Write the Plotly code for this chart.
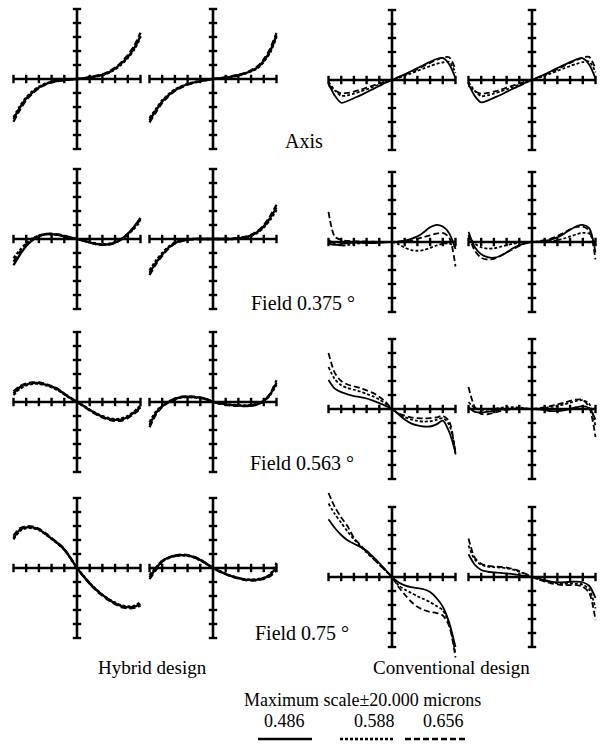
import plotly.graph_objects as go

W, H = 609, 747

# pupil coordinate samples (relative aperture) and axis ticks
X = [-1.0, -0.9, -0.8, -0.7, -0.6, -0.5, -0.4, -0.3, -0.2, -0.1, 0.0,
     0.1, 0.2, 0.3, 0.4, 0.5, 0.6, 0.7, 0.8, 0.9, 1.0]
X_TICKS = [-1.0, -0.8, -0.6, -0.4, -0.2, 0.2, 0.4, 0.6, 0.8, 1.0]
Y_TICKS = [-20, -16, -12, -8, -4, 4, 8, 12, 16, 20]   # microns
WAVELENGTHS = ["0.486", "0.588", "0.656"]
ROW_LABELS = ["Axis", "Field 0.375 °", "Field 0.563 °", "Field 0.75 °"]
DESIGN_LABELS = ["Hybrid design", "Conventional design"]
SCALE_LABEL = "Maximum scale\u00b120.000 microns"

# ---------------- Axis ----------------
h_ax_t_486 = [-11.5, -8.2, -5.6, -3.8, -2.4, -1.5, -0.9, -0.5, -0.3, -0.1, 0, 0.2, 0.5, 0.8, 1.2, 1.9, 3.0, 4.5, 6.3, 8.8, 12.3]
h_ax_t_588 = [-11.0, -7.8, -5.3, -3.5, -2.2, -1.3, -0.8, -0.4, -0.2, -0.1, 0, 0.2, 0.4, 0.7, 1.1, 1.8, 2.8, 4.2, 6.0, 8.4, 12.0]
h_ax_t_656 = [-12.2, -8.8, -6.0, -4.1, -2.6, -1.6, -1.0, -0.6, -0.3, -0.1, 0, 0.2, 0.5, 0.9, 1.3, 2.1, 3.2, 4.8, 6.8, 9.4, 13.2]

h_ax_s_486 = [-11.8, -9.0, -6.4, -4.6, -3.2, -2.2, -1.5, -1.0, -0.6, -0.3, 0, 0.2, 0.4, 0.7, 1.1, 1.6, 2.3, 3.3, 5.2, 8.0, 12.5]
h_ax_s_588 = [-11.2, -8.6, -6.1, -4.4, -3.0, -2.1, -1.4, -0.9, -0.5, -0.2, 0, 0.2, 0.4, 0.6, 1.0, 1.5, 2.2, 3.1, 4.9, 7.6, 12.0]
h_ax_s_656 = [-12.4, -9.5, -6.8, -4.9, -3.4, -2.4, -1.6, -1.1, -0.6, -0.3, 0, 0.2, 0.5, 0.8, 1.2, 1.7, 2.5, 3.6, 5.6, 8.6, 13.2]

c_ax_t_486 = [-1.0, -4.5, -6.5, -6.0, -5.2, -4.4, -3.5, -2.6, -1.7, -0.8, 0, 0.8, 1.6, 2.5, 3.4, 4.3, 5.2, 6.0, 6.3, 4.5, 0.5]
c_ax_t_588 = [-0.5, -3.0, -4.5, -4.4, -3.9, -3.3, -2.7, -2.0, -1.3, -0.6, 0, 0.6, 1.2, 1.9, 2.6, 3.3, 4.0, 4.6, 5.0, 5.2, 2.0]
c_ax_t_656 = [-1.5, -3.0, -3.8, -3.7, -3.3, -2.8, -2.2, -1.6, -1.0, -0.4, 0.2, 0.8, 1.5, 2.3, 3.1, 4.0, 4.9, 5.7, 6.4, 6.5, 3.0]

c_ax_s_486 = [-1.2, -4.6, -6.4, -5.9, -5.1, -4.3, -3.4, -2.5, -1.7, -0.8, 0, 0.8, 1.6, 2.5, 3.4, 4.3, 5.1, 5.9, 6.2, 4.4, 0.4]
c_ax_s_588 = [-0.6, -3.1, -4.6, -4.4, -3.9, -3.3, -2.7, -2.0, -1.3, -0.6, 0, 0.6, 1.2, 1.9, 2.6, 3.3, 4.0, 4.6, 5.1, 5.3, 2.2]
c_ax_s_656 = [-1.6, -3.2, -3.9, -3.7, -3.3, -2.8, -2.2, -1.6, -1.0, -0.4, 0.2, 0.8, 1.5, 2.3, 3.1, 4.0, 4.9, 5.7, 6.4, 6.6, 3.2]

# ---------------- Field 0.375 ----------------
h_f1_t_486 = [-7.5, -4.5, -2.0, -0.3, 0.8, 1.3, 1.4, 1.2, 0.8, 0.4, 0, -0.5, -1.0, -1.4, -1.6, -1.5, -1.0, 0.0, 1.5, 3.5, 6.0]
h_f1_t_588 = [-5.5, -3.2, -1.2, 0.2, 1.0, 1.4, 1.4, 1.2, 0.8, 0.4, 0, -0.4, -0.9, -1.3, -1.5, -1.4, -0.9, 0.0, 1.3, 3.0, 5.0]
h_f1_t_656 = [-6.5, -3.8, -1.5, 0.0, 0.9, 1.4, 1.5, 1.3, 0.9, 0.4, 0, -0.5, -1.0, -1.5, -1.7, -1.6, -1.1, -0.1, 1.4, 3.3, 5.6]

h_f1_s_486 = [-9.7, -6.8, -4.5, -2.5, -1.2, -0.5, -0.2, 0, 0, 0, 0, 0, 0, 0, 0.2, 0.5, 1.0, 2.0, 3.6, 6.0, 9.0]
h_f1_s_588 = [-9.0, -6.2, -4.0, -2.2, -1.0, -0.4, -0.1, 0, 0, 0, 0, 0, 0, 0, 0.1, 0.4, 0.9, 1.8, 3.3, 5.5, 8.3]
h_f1_s_656 = [-10.3, -7.2, -4.8, -2.7, -1.3, -0.6, -0.2, 0, 0, 0, 0, 0, 0, 0.1, 0.3, 0.6, 1.2, 2.2, 3.9, 6.5, 9.8]

c_f1_t_486 = [-0.5, -0.8, -0.6, -0.3, -0.2, -0.2, -0.3, -0.3, -0.2, -0.1, 0, 0.1, 0.4, 0.9, 1.6, 2.8, 4.2, 4.9, 4.4, 2.5, -2.0]
c_f1_t_588 = [0.5, -0.5, -1.0, -0.9, -0.6, -0.3, -0.1, 0, 0, 0, 0, -0.6, -1.6, -2.3, -2.5, -2.3, -1.7, -1.0, -0.5, -0.4, -1.5]
c_f1_t_656 = [8.6, 1.5, 0.6, 0.3, 0.2, 0.2, 0.1, 0.1, 0, 0, 0, 0.1, 0.2, 0.4, 0.9, 1.4, 1.9, 2.4, 2.6, 1.3, -7.0]

c_f1_s_486 = [2.9, -1.5, -3.5, -4.3, -4.5, -4.0, -3.0, -1.8, -0.9, -0.3, 0, 0.1, 0.3, 0.7, 1.3, 2.3, 3.5, 4.5, 4.9, 4.0, -3.0]
c_f1_s_588 = [1.5, -0.5, -1.5, -1.9, -1.8, -1.4, -0.9, -0.5, -0.2, 0, 0, 0, 0.1, 0.2, 0.5, 1.0, 1.6, 2.2, 2.6, 2.4, -1.0]
c_f1_s_656 = [2.0, -2.5, -4.5, -5.0, -4.8, -4.0, -3.0, -2.0, -1.1, -0.4, 0, 0.2, 0.5, 1.0, 1.7, 2.6, 3.6, 4.3, 4.4, 3.3, -5.0]

# ---------------- Field 0.563 ----------------
h_f2_t_486 = [2.5, 4.2, 5.0, 5.4, 5.4, 5.0, 4.4, 3.6, 2.3, 1.1, 0, -1.1, -2.3, -3.3, -4.2, -4.8, -5.1, -5.0, -4.3, -3.0, -1.5]
h_f2_t_588 = [2.0, 3.8, 4.7, 5.2, 5.2, 4.8, 4.2, 3.4, 2.2, 1.0, 0, -1.0, -2.2, -3.2, -4.0, -4.6, -4.9, -4.7, -4.0, -2.7, -1.0]
h_f2_t_656 = [3.0, 4.5, 5.3, 5.6, 5.6, 5.2, 4.5, 3.7, 2.4, 1.2, 0, -1.2, -2.4, -3.5, -4.4, -5.0, -5.4, -5.3, -4.6, -3.3, -2.0]

h_f2_s_486 = [-6.6, -3.2, -1.2, 0.0, 0.9, 1.4, 1.5, 1.4, 1.2, 0.8, 0, -0.4, -0.7, -0.9, -1.0, -1.1, -1.0, -0.6, 0.3, 2.2, 5.5]
h_f2_s_588 = [-5.8, -2.8, -1.0, 0.1, 0.9, 1.3, 1.4, 1.3, 1.1, 0.7, 0, -0.4, -0.6, -0.8, -0.9, -1.0, -0.9, -0.5, 0.3, 2.0, 5.0]
h_f2_s_656 = [-7.2, -3.6, -1.4, -0.1, 0.9, 1.5, 1.6, 1.5, 1.3, 0.8, 0, -0.5, -0.8, -1.0, -1.1, -1.2, -1.1, -0.7, 0.2, 2.4, 6.2]

c_f2_t_486 = [8.3, 5.8, 4.8, 4.2, 3.7, 3.4, 3.0, 2.4, 1.7, 0.9, 0, -1.5, -3.0, -4.1, -4.7, -5.0, -5.0, -4.4, -3.3, -6.5, -12.5]
c_f2_t_588 = [12.0, 8.5, 6.8, 6.0, 5.5, 5.0, 4.3, 3.6, 2.7, 1.5, 0, -1.3, -2.3, -3.0, -3.4, -3.6, -3.5, -3.1, -2.6, -4.5, -12.0]
c_f2_t_656 = [16.0, 10.3, 8.0, 7.0, 6.5, 6.0, 5.3, 4.6, 3.5, 2.0, 0, -1.2, -1.9, -2.4, -2.6, -2.7, -2.6, -2.4, -2.0, -3.5, -13.0]

c_f2_s_486 = [0.5, -0.8, -1.0, -0.8, -0.5, -0.2, 0, 0.1, 0.1, 0.1, 0, -0.1, -0.3, -0.6, -0.6, -0.4, 0, 0.5, 0.8, 0.2, -3.0]
c_f2_s_588 = [2.0, 0.3, -0.2, -0.2, 0, 0.3, 0.5, 0.5, 0.4, 0.2, 0, 0.1, 0.3, 0.6, 0.9, 1.3, 1.8, 2.3, 2.5, 1.5, -5.0]
c_f2_s_656 = [6.3, 0.5, -1.4, -1.5, -1.1, -0.6, -0.2, 0, 0.1, 0.1, 0, 0.2, 0.5, 0.9, 1.3, 1.8, 2.3, 2.7, 2.6, 0.5, -8.0]

# ---------------- Field 0.75 ----------------
h_f3_t_486 = [8.6, 10.9, 11.6, 11.6, 11.0, 9.8, 8.4, 7.0, 5.3, 2.8, 0, -2.3, -4.4, -6.2, -7.7, -9.0, -10.1, -10.9, -11.2, -11.1, -10.3]
h_f3_t_588 = [8.2, 10.6, 11.4, 11.4, 10.9, 9.7, 8.3, 6.9, 5.2, 2.7, 0, -2.2, -4.3, -6.1, -7.6, -8.9, -9.9, -10.7, -11.0, -10.8, -9.8]
h_f3_t_656 = [9.2, 11.3, 11.9, 11.8, 11.2, 10.0, 8.5, 7.1, 5.4, 2.8, 0, -2.4, -4.5, -6.4, -7.9, -9.2, -10.3, -11.2, -11.5, -11.4, -10.8]

h_f3_s_486 = [-2.6, -0.2, 2.0, 3.0, 3.5, 3.7, 3.6, 3.1, 2.3, 1.2, 0, -0.9, -1.7, -2.4, -2.9, -3.3, -3.4, -3.3, -2.9, -2.0, 0.5]
h_f3_s_588 = [-2.0, 0.1, 2.0, 2.9, 3.4, 3.6, 3.5, 3.0, 2.2, 1.1, 0, -0.9, -1.6, -2.3, -2.8, -3.2, -3.3, -3.2, -2.8, -1.8, 1.5]
h_f3_s_656 = [-3.2, -0.6, 1.8, 2.9, 3.5, 3.8, 3.7, 3.2, 2.4, 1.2, 0, -1.0, -1.8, -2.5, -3.0, -3.4, -3.6, -3.5, -3.1, -2.3, -0.5]

c_f3_t_486 = [16.5, 14.0, 12.0, 10.5, 9.5, 8.6, 7.5, 5.8, 4.0, 2.0, 0, -1.5, -2.4, -2.9, -3.2, -3.5, -4.3, -6.0, -8.5, -13.0, -20.0]
c_f3_t_588 = [21.0, 18.0, 15.5, 13.0, 10.8, 8.9, 7.0, 5.3, 3.6, 1.8, 0, -2.3, -3.6, -4.5, -5.5, -6.3, -7.2, -8.3, -9.5, -13.5, -22.0]
c_f3_t_656 = [24.0, 20.0, 17.0, 14.5, 11.2, 9.2, 7.2, 5.4, 3.5, 1.8, 0, -2.8, -5.0, -7.0, -8.5, -9.4, -10.0, -10.3, -11.0, -14.0, -23.0]

c_f3_s_486 = [6.5, 3.5, 2.0, 1.5, 1.3, 1.2, 1.0, 0.8, 0.5, 0.3, 0, -0.4, -0.9, -1.3, -1.5, -1.5, -1.4, -1.3, -1.5, -2.5, -6.0]
c_f3_s_588 = [9.0, 5.0, 3.5, 3.0, 2.8, 2.7, 2.5, 2.1, 1.5, 0.8, 0, -0.6, -1.1, -1.5, -1.8, -1.9, -1.9, -1.9, -2.2, -3.5, -9.0]
c_f3_s_656 = [11.0, 5.5, 3.8, 3.2, 3.0, 2.9, 2.7, 2.3, 1.7, 0.9, 0, -0.7, -1.3, -1.8, -2.1, -2.3, -2.3, -2.3, -2.8, -4.5, -12.3]

PANELS = [
    [[h_ax_t_486, h_ax_t_588, h_ax_t_656], [h_ax_s_486, h_ax_s_588, h_ax_s_656],
     [c_ax_t_486, c_ax_t_588, c_ax_t_656], [c_ax_s_486, c_ax_s_588, c_ax_s_656]],
    [[h_f1_t_486, h_f1_t_588, h_f1_t_656], [h_f1_s_486, h_f1_s_588, h_f1_s_656],
     [c_f1_t_486, c_f1_t_588, c_f1_t_656], [c_f1_s_486, c_f1_s_588, c_f1_s_656]],
    [[h_f2_t_486, h_f2_t_588, h_f2_t_656], [h_f2_s_486, h_f2_s_588, h_f2_s_656],
     [c_f2_t_486, c_f2_t_588, c_f2_t_656], [c_f2_s_486, c_f2_s_588, c_f2_s_656]],
    [[h_f3_t_486, h_f3_t_588, h_f3_t_656], [h_f3_s_486, h_f3_s_588, h_f3_s_656],
     [c_f3_t_486, c_f3_t_588, c_f3_t_656], [c_f3_s_486, c_f3_s_588, c_f3_s_656]],
]

# ---------------- layout geometry (pixels) ----------------
COL_CX = [77, 213, 392, 532]
ROW_CY_HYB = [79, 239, 402, 568]
ROW_CY_CONV = [80, 242, 409, 577]
SX = 63.5        # px per unit of relative aperture
SY = 70 / 20.0   # px per micron
DASHES = ["solid", "3px,2px", "6px,3px"]
FONT = "Liberation Serif, Times New Roman, serif"

fig = go.Figure()
layout_axes = {}
k = 0
for r in range(4):
    for c in range(4):
        k += 1
        cx = COL_CX[c]
        cy = ROW_CY_HYB[r] if c < 2 else ROW_CY_CONV[r]
        x0, x1 = max(0, cx - 75), min(W, cx + 75)
        y0, y1 = max(0, cy - 100), min(H, cy + 100)
        xa = "x" if k == 1 else f"x{k}"
        ya = "y" if k == 1 else f"y{k}"
        layout_axes["xaxis" if k == 1 else f"xaxis{k}"] = dict(
            domain=[x0 / W, x1 / W], range=[(x0 - cx) / SX, (x1 - cx) / SX],
            visible=False, anchor=ya, fixedrange=True)
        layout_axes["yaxis" if k == 1 else f"yaxis{k}"] = dict(
            domain=[1 - y1 / H, 1 - y0 / H], range=[(cy - y1) / SY, (cy - y0) / SY],
            visible=False, anchor=xa, fixedrange=True)
        # cross-shaped axes with tick marks
        fig.add_trace(go.Scatter(x=[X_TICKS[0], X_TICKS[-1]], y=[0, 0], mode="lines",
                                 line=dict(color="black", width=2.6), xaxis=xa, yaxis=ya,
                                 showlegend=False, hoverinfo="skip"))
        fig.add_trace(go.Scatter(x=[0, 0], y=[Y_TICKS[0], Y_TICKS[-1]], mode="lines",
                                 line=dict(color="black", width=2.6), xaxis=xa, yaxis=ya,
                                 showlegend=False, hoverinfo="skip"))
        fig.add_trace(go.Scatter(x=X_TICKS, y=[0] * len(X_TICKS), mode="markers",
                                 marker=dict(symbol="line-ns", size=6,
                                             line=dict(color="black", width=2.4)),
                                 xaxis=xa, yaxis=ya, showlegend=False, hoverinfo="skip"))
        fig.add_trace(go.Scatter(x=[0] * len(Y_TICKS), y=Y_TICKS, mode="markers",
                                 marker=dict(symbol="line-ew", size=6,
                                             line=dict(color="black", width=2.4)),
                                 xaxis=xa, yaxis=ya, showlegend=False, hoverinfo="skip"))
        lw = 2.3 if c < 2 else 1.8
        for i, ys in enumerate(PANELS[r][c]):
            fig.add_trace(go.Scatter(x=X, y=ys, mode="lines",
                                     line=dict(color="black", width=lw, dash=DASHES[i],
                                               shape="spline", smoothing=0.8),
                                     xaxis=xa, yaxis=ya, showlegend=False,
                                     name=WAVELENGTHS[i]))

def ann(text, px, py, size=18):
    return dict(text=text, x=px / W, y=1 - py / H, xref="paper", yref="paper",
                xanchor="center", yanchor="middle", showarrow=False,
                font=dict(family=FONT, size=size, color="black"))

annotations = [
    ann(ROW_LABELS[0], 304, 141, 20),
    ann(ROW_LABELS[1], 303, 303, 20),
    ann(ROW_LABELS[2], 302, 463, 20),
    ann(ROW_LABELS[3], 302, 633, 20),
    ann(DESIGN_LABELS[0], 152, 667, 19),
    ann(DESIGN_LABELS[1], 451, 667, 19),
    ann(SCALE_LABEL, 362, 700),
    ann(WAVELENGTHS[0], 284, 721),
    ann(WAVELENGTHS[1], 374, 721),
    ann(WAVELENGTHS[2], 443, 721),
]

LEG_X = [(258, 312), (340, 395), (405, 465)]
shapes = []
for i, (a, b) in enumerate(LEG_X):
    shapes.append(dict(type="line", xref="paper", yref="paper",
                       x0=a / W, x1=b / W, y0=1 - 739 / H, y1=1 - 739 / H,
                       line=dict(color="black", width=2.5, dash=DASHES[i])))

fig.update_layout(width=W, height=H, margin=dict(l=0, r=0, t=0, b=0),
                  paper_bgcolor="white", plot_bgcolor="rgba(0,0,0,0)",
                  showlegend=False, annotations=annotations, shapes=shapes,
                  **layout_axes)

fig.write_html("out.html", post_script="document.body.style.margin='0';",
               config={"displayModeBar": False, "staticPlot": True})
